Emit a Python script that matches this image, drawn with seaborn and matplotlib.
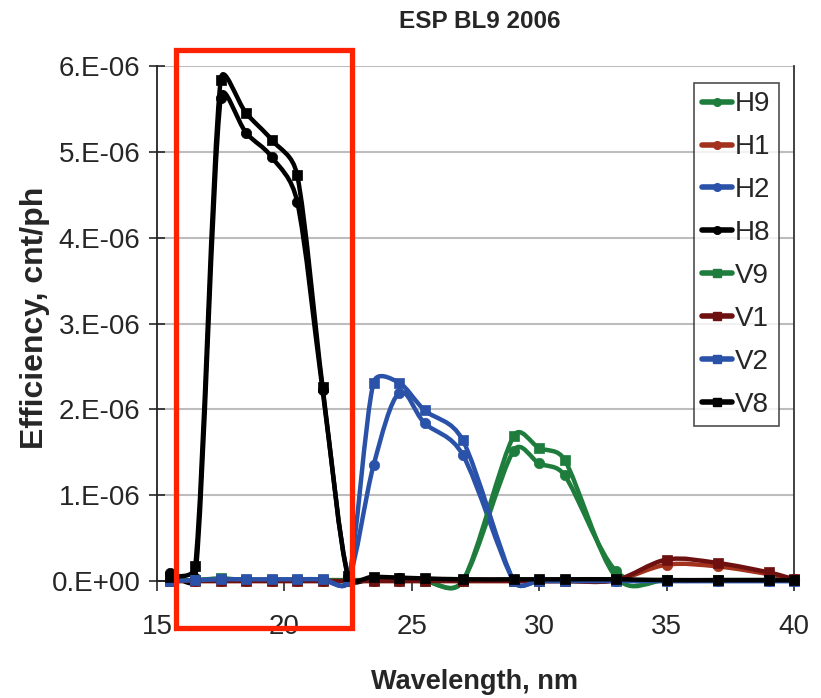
import numpy as np
import pandas as pd
import matplotlib
matplotlib.use("Agg")
import matplotlib.pyplot as plt
import seaborn as sns
from matplotlib.path import Path
from matplotlib.patches import PathPatch, Rectangle
from matplotlib.lines import Line2D

# wavelength grid, nm
wavelength = [15.5, 16.5, 17.5, 18.5, 19.5, 20.5, 21.5, 22.5, 23.5, 24.5,
              25.5, 27, 29, 30, 31, 33, 35, 37, 39, 40]

# efficiency, units of 1e-6 cnt/ph
H9 = [0.01, 0.01, 0.02, 0.01, 0.01, 0.01, 0.01, 0.01, 0.01, 0.01,
      0.0, 0.0, 1.52, 1.37, 1.23, 0.12, 0.01, 0.01, 0.01, 0.01]
H1 = [0.0, 0.0, 0.0, 0.0, 0.0, 0.0, 0.0, 0.0, 0.0, 0.0,
      0.0, 0.0, 0.0, 0.0, 0.0, 0.01, 0.19, 0.17, 0.08, 0.02]
H2 = [0.0, 0.01, 0.01, 0.01, 0.01, 0.01, 0.01, 0.0, 1.35, 2.19,
      1.84, 1.47, 0.0, 0.0, 0.0, 0.0, 0.0, 0.0, 0.0, 0.0]
H8 = [0.09, 0.03, 5.63, 5.22, 4.94, 4.42, 2.22, 0.05, 0.03, 0.03,
      0.02, 0.01, 0.01, 0.01, 0.01, 0.01, 0.01, 0.01, 0.01, 0.01]
V9 = [0.01, 0.01, 0.03, 0.01, 0.01, 0.01, 0.01, 0.01, 0.01, 0.01,
      0.0, 0.0, 1.69, 1.55, 1.41, 0.05, 0.01, 0.01, 0.01, 0.01]
V1 = [0.0, 0.0, 0.0, 0.0, 0.0, 0.0, 0.0, 0.0, 0.0, 0.0,
      0.0, 0.0, 0.0, 0.0, 0.0, 0.01, 0.25, 0.21, 0.10, 0.02]
V2 = [0.0, 0.01, 0.02, 0.02, 0.02, 0.02, 0.02, 0.0, 2.31, 2.31,
      1.99, 1.64, 0.0, 0.0, 0.0, 0.0, 0.0, 0.0, 0.0, 0.0]
V8 = [0.05, 0.17, 5.84, 5.45, 5.14, 4.73, 2.26, 0.06, 0.05, 0.04,
      0.03, 0.02, 0.02, 0.02, 0.02, 0.02, 0.01, 0.01, 0.01, 0.01]

series_names = ["H9", "H1", "H2", "H8", "V9", "V1", "V2", "V8"]
series_vals = [H9, H1, H2, H8, V9, V1, V2, V8]
colors = ["#1e7d3c", "#a3321c", "#2a52a8", "#000000",
          "#1e7d3c", "#6e1010", "#2a52a8", "#000000"]
markers = ["o", "o", "o", "o", "s", "s", "s", "s"]

y_ticks = [0, 1e-6, 2e-6, 3e-6, 4e-6, 5e-6, 6e-6]
y_ticklabels = ["0.E+00", "1.E-06", "2.E-06", "3.E-06", "4.E-06", "5.E-06", "6.E-06"]
x_ticks = [15, 20, 25, 30, 35, 40]

sns.set_style("white")
plt.rcParams["font.family"] = ["Liberation Sans", "DejaVu Sans"]

df = pd.DataFrame({"wl": wavelength})
for n, v in zip(series_names, series_vals):
    df[n] = np.array(v) * 1e-6


def smooth_path(ax, x, y):
    # Excel-like smoothed line: Catmull-Rom bezier done in screen space,
    # control arms capped at half the segment length
    pts = ax.transData.transform(np.column_stack([x, y]))
    inv = ax.transData.inverted()
    verts = [pts[0]]
    codes = [Path.MOVETO]
    n = len(pts)
    for i in range(n - 1):
        p0 = pts[i - 1] if i > 0 else pts[i]
        p1 = pts[i]
        p2 = pts[i + 1]
        p3 = pts[i + 2] if i + 2 < n else pts[i + 1]
        d12 = np.hypot(*(p2 - p1))
        a = (p2 - p0) / 6.0
        b = (p3 - p1) / 6.0
        la, lb = np.hypot(*a), np.hypot(*b)
        if la > d12 / 2 and la > 0:
            a = a * (d12 / 2) / la
        if lb > d12 / 2 and lb > 0:
            b = b * (d12 / 2) / lb
        verts += [p1 + a, p2 - b, p2]
        codes += [Path.CURVE4] * 3
    return Path(inv.transform(np.array(verts)), codes)


fig = plt.figure(figsize=(8.21, 6.98), dpi=100)
ax = fig.add_axes([157 / 821, 117 / 698, 637 / 821, 515 / 698])
ax.set_xlim(15, 40)
ax.set_ylim(0, 6e-6)

for n, c, m in zip(series_names, colors, markers):
    patch = PathPatch(smooth_path(ax, df["wl"].values, df[n].values),
                      fill=False, edgecolor=c, lw=3.2, zorder=3,
                      capstyle="round", joinstyle="round", clip_on=False)
    ax.add_patch(patch)
    sns.scatterplot(data=df, x="wl", y=n, ax=ax, color=c, marker=m,
                    s=62 if m == "s" else 56, edgecolor=c, linewidth=0.5,
                    zorder=4, legend=False, clip_on=False)

ax.set_xlim(15, 40)
ax.set_ylim(0, 6e-6)
ax.set_xticks(x_ticks)
ax.set_xticklabels([str(t) for t in x_ticks])
ax.set_yticks(y_ticks)
ax.set_yticklabels(y_ticklabels)
ax.set_xlabel("")
ax.set_ylabel("")
ax.tick_params(axis="y", direction="inout", length=12, width=1.2,
               labelsize=20, pad=6, left=True)
ax.tick_params(axis="x", direction="out", length=7, width=1.2,
               labelsize=20, pad=17, bottom=True)
ax.yaxis.grid(True, color="#bdbdbd", lw=1.5, zorder=0)
ax.set_axisbelow(True)
for s in ["left", "bottom"]:
    ax.spines[s].set_color("#222222")
    ax.spines[s].set_linewidth(1.3)
ax.spines["top"].set_visible(False)
ax.spines["right"].set_color("#333333")
ax.spines["right"].set_linewidth(1.3)

handles = [Line2D([0], [0], color=c, lw=4, marker=m,
                  markersize=5.5, markeredgecolor=c)
           for c, m in zip(colors, markers)]
leg = ax.legend(handles, series_names, loc="upper right",
                bbox_to_anchor=(0.9765, 0.967), borderaxespad=0,
                fontsize=20, frameon=True, fancybox=False,
                edgecolor="#222222", handlelength=1.1, handletextpad=0.1,
                labelspacing=0.61, borderpad=0.3)
leg.get_frame().set_linewidth(1.2)
leg.set_zorder(6)

fig.text(480 / 821, 1 - 22 / 698, "ESP BL9 2006", ha="center", va="center",
         fontsize=17.5, fontweight="bold")
fig.text(474 / 821, 1 - 682 / 698, "Wavelength, nm", ha="center",
         va="center", fontsize=19.5, fontweight="bold")
fig.text(35 / 821, 1 - 318 / 698, "Efficiency, cnt/ph", ha="center",
         va="center", rotation=90, fontsize=23, fontweight="bold")

fig.patches.append(Rectangle((176 / 821, 70 / 698), 176 / 821, 578 / 698,
                             transform=fig.transFigure, fill=False,
                             edgecolor="#ff2200", lw=3.8, zorder=10))

fig.savefig("out.png", dpi=100)
